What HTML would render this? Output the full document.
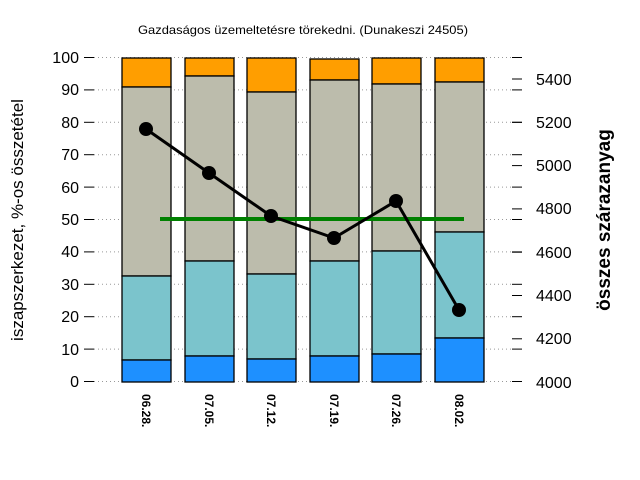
<!DOCTYPE html>
<html><head><meta charset="utf-8"><style>body{margin:0;background:#fff}svg{display:block}</style></head><body>
<svg width="640" height="480" xmlns="http://www.w3.org/2000/svg" font-family="Liberation Sans, sans-serif">
<rect width="640" height="480" fill="#fff"/>
<text x="303" y="34" font-size="12" text-anchor="middle" textLength="330" lengthAdjust="spacingAndGlyphs">Gazdaságos üzemeltetésre törekedni. (Dunakeszi 24505)</text>
<g stroke="#999" stroke-dasharray="1,3" stroke-width="1">
<line x1="94" x2="512" y1="57.5" y2="57.5"/><line x1="94" x2="512" y1="89.9" y2="89.9"/><line x1="94" x2="512" y1="122.3" y2="122.3"/><line x1="94" x2="512" y1="154.7" y2="154.7"/><line x1="94" x2="512" y1="187.1" y2="187.1"/><line x1="94" x2="512" y1="219.5" y2="219.5"/><line x1="94" x2="512" y1="251.9" y2="251.9"/><line x1="94" x2="512" y1="284.3" y2="284.3"/><line x1="94" x2="512" y1="316.7" y2="316.7"/><line x1="94" x2="512" y1="349.1" y2="349.1"/><line x1="94" x2="512" y1="381.5" y2="381.5"/>
</g>
<g stroke="#000" stroke-width="1">
<line x1="84" x2="94" y1="57.5" y2="57.5"/><line x1="84" x2="94" y1="89.9" y2="89.9"/><line x1="84" x2="94" y1="122.3" y2="122.3"/><line x1="84" x2="94" y1="154.7" y2="154.7"/><line x1="84" x2="94" y1="187.1" y2="187.1"/><line x1="84" x2="94" y1="219.5" y2="219.5"/><line x1="84" x2="94" y1="251.9" y2="251.9"/><line x1="84" x2="94" y1="284.3" y2="284.3"/><line x1="84" x2="94" y1="316.7" y2="316.7"/><line x1="84" x2="94" y1="349.1" y2="349.1"/><line x1="84" x2="94" y1="381.5" y2="381.5"/>
<line x1="512" x2="522" y1="57.5" y2="57.5"/><line x1="512" x2="522" y1="89.9" y2="89.9"/><line x1="512" x2="522" y1="122.3" y2="122.3"/><line x1="512" x2="522" y1="154.7" y2="154.7"/><line x1="512" x2="522" y1="187.1" y2="187.1"/><line x1="512" x2="522" y1="219.5" y2="219.5"/><line x1="512" x2="522" y1="251.9" y2="251.9"/><line x1="512" x2="522" y1="284.3" y2="284.3"/><line x1="512" x2="522" y1="316.7" y2="316.7"/><line x1="512" x2="522" y1="349.1" y2="349.1"/><line x1="512" x2="522" y1="381.5" y2="381.5"/>
<line x1="512" x2="522" y1="79" y2="79"/><line x1="512" x2="522" y1="122.3" y2="122.3"/><line x1="512" x2="522" y1="165.6" y2="165.6"/><line x1="512" x2="522" y1="208.9" y2="208.9"/><line x1="512" x2="522" y1="252.2" y2="252.2"/><line x1="512" x2="522" y1="295.5" y2="295.5"/><line x1="512" x2="522" y1="338.8" y2="338.8"/>
</g>
<g font-size="16" text-anchor="end" fill="#000">
<text x="79" y="63">100</text><text x="79" y="95">90</text><text x="79" y="128">80</text><text x="79" y="160">70</text><text x="79" y="193">60</text><text x="79" y="225">50</text><text x="79" y="257">40</text><text x="79" y="290">30</text><text x="79" y="322">20</text><text x="79" y="355">10</text><text x="79" y="387">0</text>
</g>
<g font-size="16" fill="#000">
<text x="536" y="85">5400</text><text x="536" y="128">5200</text><text x="536" y="171">5000</text><text x="536" y="214">4800</text><text x="536" y="258">4600</text><text x="536" y="301">4400</text><text x="536" y="344">4200</text><text x="536" y="388">4000</text>
</g>
<text transform="translate(23,220) rotate(-90)" font-size="17" text-anchor="middle">iszapszerkezet, %-os összetétel</text>
<text transform="translate(610,220) rotate(-90)" font-size="19" font-weight="bold" text-anchor="middle">összes szárazanyag</text>
<g stroke="#000" stroke-width="1.3">
<!-- bar1 -->
<rect x="122" y="58" width="49" height="29" fill="#FF9E00"/><rect x="122" y="87" width="49" height="189" fill="#BCBCAC"/><rect x="122" y="276" width="49" height="84" fill="#7BC4CC"/><rect x="122" y="360" width="49" height="22" fill="#1E90FF"/>
<rect x="185" y="58" width="49" height="18" fill="#FF9E00"/><rect x="185" y="76" width="49" height="185" fill="#BCBCAC"/><rect x="185" y="261" width="49" height="95" fill="#7BC4CC"/><rect x="185" y="356" width="49" height="26" fill="#1E90FF"/>
<rect x="247" y="58" width="49" height="34" fill="#FF9E00"/><rect x="247" y="92" width="49" height="182" fill="#BCBCAC"/><rect x="247" y="274" width="49" height="85" fill="#7BC4CC"/><rect x="247" y="359" width="49" height="23" fill="#1E90FF"/>
<rect x="310" y="59" width="49" height="21" fill="#FF9E00"/><rect x="310" y="80" width="49" height="181" fill="#BCBCAC"/><rect x="310" y="261" width="49" height="95" fill="#7BC4CC"/><rect x="310" y="356" width="49" height="26" fill="#1E90FF"/>
<rect x="372" y="58" width="49" height="26" fill="#FF9E00"/><rect x="372" y="84" width="49" height="167" fill="#BCBCAC"/><rect x="372" y="251" width="49" height="103" fill="#7BC4CC"/><rect x="372" y="354" width="49" height="28" fill="#1E90FF"/>
<rect x="435" y="58" width="49" height="24" fill="#FF9E00"/><rect x="435" y="82" width="49" height="150" fill="#BCBCAC"/><rect x="435" y="232" width="49" height="106" fill="#7BC4CC"/><rect x="435" y="338" width="49" height="44" fill="#1E90FF"/>
</g>
<line x1="160" x2="464" y1="219" y2="219" stroke="#008000" stroke-width="4"/>
<polyline points="146,129 209,173 271,216 334,238 396,201 459,310" fill="none" stroke="#000" stroke-width="3"/>
<g fill="#000"><circle cx="146" cy="129" r="7"/><circle cx="209" cy="173" r="7"/><circle cx="271" cy="216" r="7"/><circle cx="334" cy="238" r="7"/><circle cx="396" cy="201" r="7"/><circle cx="459" cy="310" r="7"/></g>
<g font-size="12" font-weight="bold">
<text transform="translate(142,394) rotate(90)">06.28.</text>
<text transform="translate(205,394) rotate(90)">07.05.</text>
<text transform="translate(267,394) rotate(90)">07.12.</text>
<text transform="translate(330,394) rotate(90)">07.19.</text>
<text transform="translate(392,394) rotate(90)">07.26.</text>
<text transform="translate(455,394) rotate(90)">08.02.</text>
</g>
</svg>
</body></html>
